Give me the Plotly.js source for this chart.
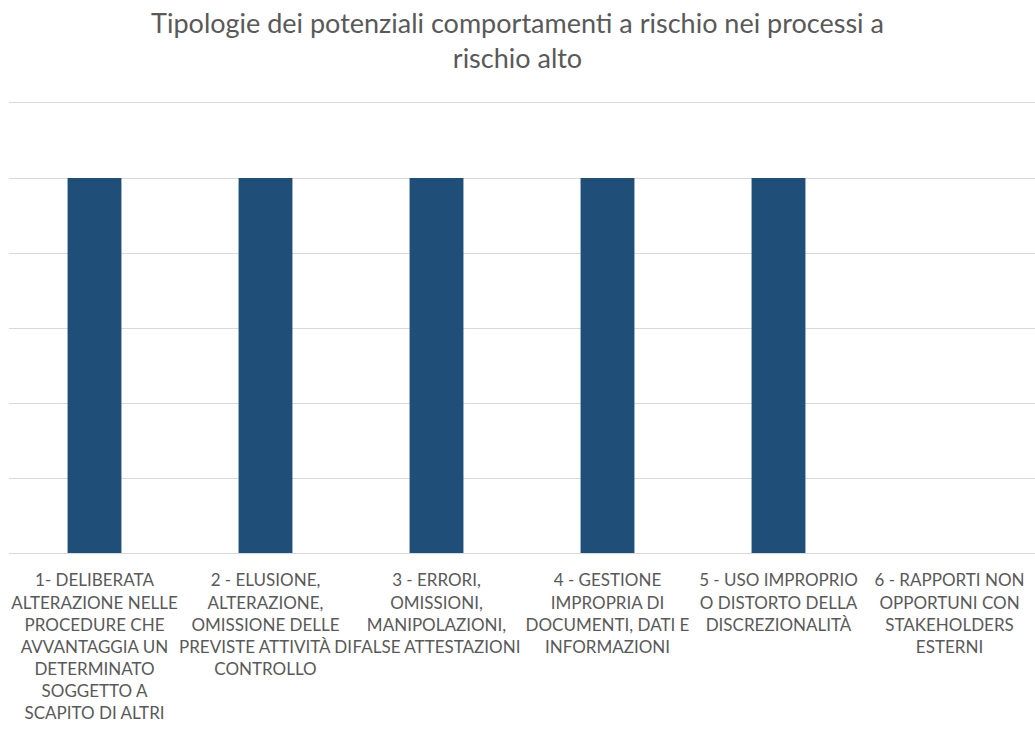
<!DOCTYPE html>
<html>
<head>
<meta charset="utf-8">
<script src="https://cdn.plot.ly/plotly-3.0.1.min.js"></script>
<style>html,body{margin:0;padding:0;background:#fff;}#chart{width:1035px;height:729px;}</style>
</head>
<body>
<div id="chart"></div>
<script>
const categories = [
  "1- DELIBERATA<br>ALTERAZIONE NELLE<br>PROCEDURE CHE<br>AVVANTAGGIA UN<br>DETERMINATO<br>SOGGETTO A<br>SCAPITO DI ALTRI",
  "2 - ELUSIONE,<br>ALTERAZIONE,<br>OMISSIONE DELLE<br>PREVISTE ATTIVITÀ DI<br>CONTROLLO",
  "3 - ERRORI,<br>OMISSIONI,<br>MANIPOLAZIONI,<br>FALSE ATTESTAZIONI",
  "4 - GESTIONE<br>IMPROPRIA DI<br>DOCUMENTI, DATI E<br>INFORMAZIONI",
  "5 - USO IMPROPRIO<br>O DISTORTO DELLA<br>DISCREZIONALITÀ",
  "6 - RAPPORTI NON<br>OPPORTUNI CON<br>STAKEHOLDERS<br>ESTERNI"
];
const values = [5, 5, 5, 5, 5, 0];
const titleText = "Tipologie dei potenziali comportamenti a rischio nei processi a<br>rischio alto";

const trace = {
  type: "bar",
  x: categories,
  y: values,
  marker: {color: "#1F4E79"},
  width: 0.315,
  hoverinfo: "x+y"
};

const layout = {
  width: 1035,
  height: 729,
  margin: {l: 9, r: 0, t: 103, b: 176},
  paper_bgcolor: "#ffffff",
  plot_bgcolor: "#ffffff",
  showlegend: false,
  title: {
    text: titleText,
    font: {family: "Lato, 'Open Sans', sans-serif", size: 27, color: "#595959"},
    x: 0.5,
    xanchor: "center",
    y: 0.955,
    yanchor: "middle"
  },
  xaxis: {
    tickfont: {family: "Lato, 'Open Sans', sans-serif", size: 17, color: "#595959"},
    tickangle: 0,
    ticklabelstandoff: 12,
    showgrid: false,
    showline: true,
    mirror: true,
    linecolor: "#d9d9d9",
    linewidth: 1,
    ticks: "",
    automargin: false,
    fixedrange: true
  },
  yaxis: {
    range: [0, 6],
    dtick: 1,
    showticklabels: false,
    showgrid: true,
    gridcolor: "#d9d9d9",
    gridwidth: 1,
    zeroline: false,
    showline: false,
    ticks: "",
    fixedrange: true
  },
  bargap: 0.685
};

Plotly.newPlot("chart", [trace], layout, {displayModeBar: false, staticPlot: true});
</script>
</body>
</html>
